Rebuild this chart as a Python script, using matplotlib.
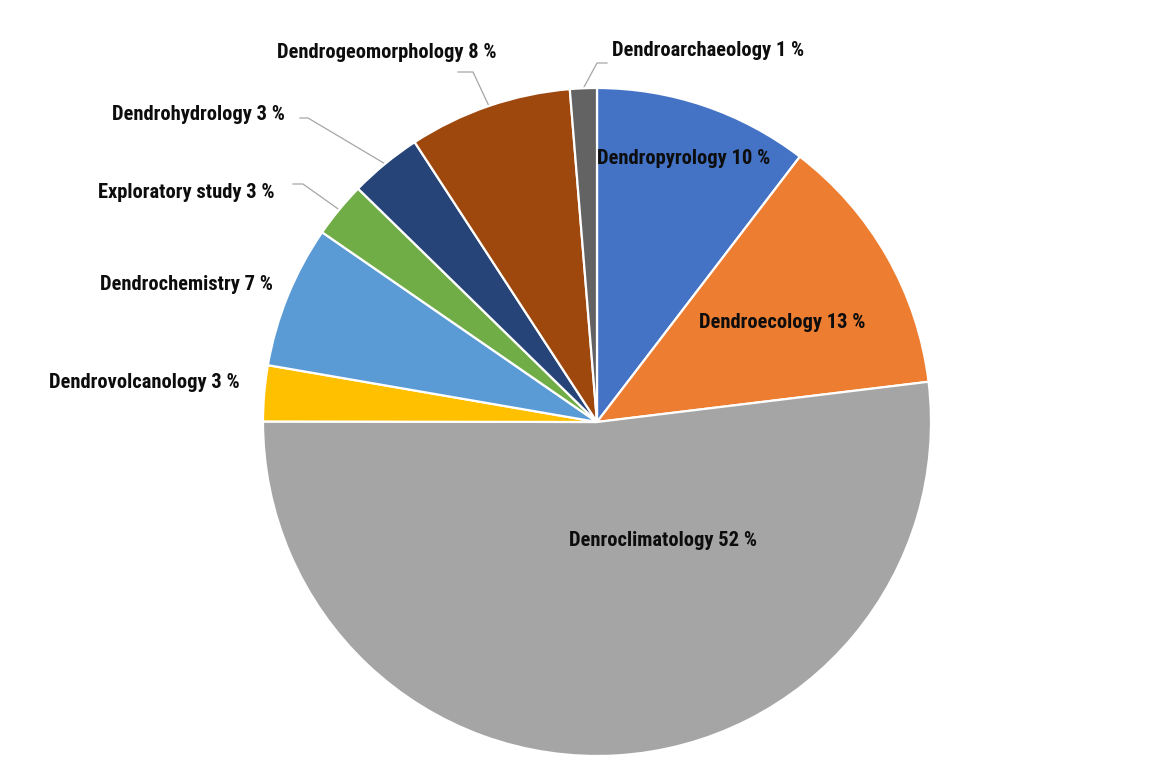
import numpy as np
import matplotlib
matplotlib.use("Agg")
from matplotlib import pyplot as plt
from matplotlib import font_manager

# slices, clockwise from 12 o'clock
names = ['Dendropyrology', 'Dendroecology', 'Denroclimatology', 'Dendrovolcanology',
         'Dendrochemistry', 'Exploratory study', 'Dendrohydrology',
         'Dendrogeomorphology', 'Dendroarchaeology']
shares = [10.4, 12.7, 52.0, 2.7, 6.9, 2.7, 3.5, 7.9, 1.3]
pct_text = ['10', '13', '52', '3', '7', '3', '3', '8', '1']

colours = ['#4472C4', '#ED7D31', '#A5A5A5', '#FFC000', '#5B9BD5',
           '#70AD47', '#264478', '#9E480E', '#636363']

W, H = 1159, 765
cx, cy, R = 597, 422, 334   # pie centre / radius in pixels (from top)

def px(x, y):
    # pixel (from top-left) -> data coords of the pie axes
    return (x - cx) / R, (cy - y) / R

fams = {f.name for f in font_manager.fontManager.ttflist}
font = 'Liberation Sans'
for cand in ['Roboto Condensed', 'Liberation Sans Narrow', 'Open Sans Condensed',
             'DejaVu Sans Condensed', 'Roboto']:
    if cand in fams:
        font = cand
        break
plt.rcParams['font.family'] = [font, 'DejaVu Sans']

fig = plt.figure(figsize=(W / 100, H / 100), dpi=100)
ax = fig.add_axes([(cx - R) / W, (H - cy - R) / H, 2 * R / W, 2 * R / H])
wedges, _ = ax.pie(shares, colors=colours, startangle=90, counterclock=False,
                   wedgeprops=dict(edgecolor='white', linewidth=1.6))
ax.set_xlim(-1, 1)
ax.set_ylim(-1, 1)
ax.set_aspect('equal')
ax.axis('off')

# pick a size so the longest label is about as wide as in the original (~220 px)
renderer = fig.canvas.get_renderer()
probe = fig.text(0, 0, 'Dendrogeomorphology 8 %', fontsize=15, fontweight='bold')
wpx = probe.get_window_extent(renderer).width
probe.remove()
fsize = min(15.5, 15 * 220 / wpx)

# label placement: (x, y, ha, elbow) in pixels; None elbow -> no leader line
place = {
    'Dendropyrology':      (684, 158, 'center', None),
    'Dendroecology':       (782, 322, 'center', None),
    'Denroclimatology':    (663, 540, 'center', None),
    'Dendrovolcanology':   (240, 383, 'right', None),
    'Dendrochemistry':     (273, 284, 'right', None),
    'Exploratory study':   (275, 193, 'right', (303, 184)),
    'Dendrohydrology':     (285, 115, 'right', (308, 118)),
    'Dendrogeomorphology': (387, 52, 'center', (473, 72)),
    'Dendroarchaeology':   (612, 50, 'left', (597, 63)),
}
line_end = {
    'Exploratory study': (293, 184),
    'Dendrohydrology': (300, 118),
    'Dendrogeomorphology': (458, 72),
    'Dendroarchaeology': (607, 63),
}

for w, name, p in zip(wedges, names, pct_text):
    x, y, ha, elbow = place[name]
    tx, ty = px(x, y)
    ax.text(tx, ty, f'{name} {p} %', ha=ha, va='center', fontsize=fsize,
            fontweight='bold', color='#0d0d0d')
    if elbow is not None:
        mid = np.deg2rad((w.theta1 + w.theta2) / 2)
        ex, ey = px(*elbow)
        lx, ly = px(*line_end[name])
        ax.plot([np.cos(mid), ex, lx], [np.sin(mid), ey, ly], color='#A6A6A6',
                lw=0.9, clip_on=False, zorder=0)

fig.savefig('out.png', dpi=100, facecolor='white')
